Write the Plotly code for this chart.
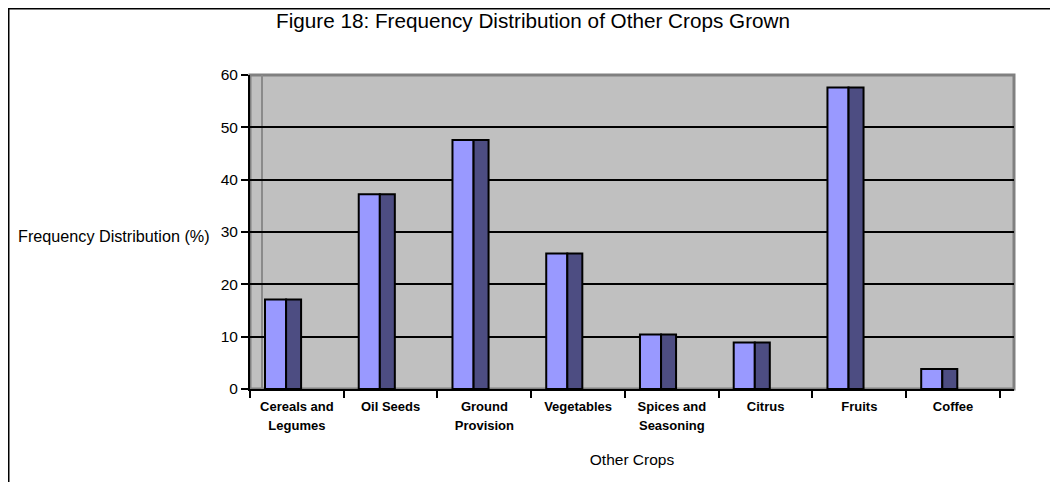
import plotly.graph_objects as go

# data
crops = ["Cereals and<br>Legumes", "Oil Seeds", "Ground<br>Provision", "Vegetables",
         "Spices and<br>Seasoning", "Citrus", "Fruits", "Coffee"]
freq_pct = [17.1, 37.2, 47.6, 25.9, 10.4, 8.9, 57.6, 3.8]
y_ticks = [0, 10, 20, 30, 40, 50, 60]

FONT = "Liberation Sans, Arial, sans-serif"

# figure sits 8px in from the page corner, so size it 8px smaller
W, H = 1050, 474
L, R, T, B = 242, 44, 67, 93
PW, PH = W - L - R, H - T - B

fig = go.Figure()

# front face of each 3-D column
fig.add_trace(go.Bar(
    x=crops, y=freq_pct,
    offset=-0.34, width=0.225,
    marker=dict(color="#9999FF", line=dict(color="black", width=2)),
    showlegend=False, hoverinfo="y"
))
# side (depth) face
fig.add_trace(go.Bar(
    x=crops, y=freq_pct,
    offset=-0.115, width=0.16,
    marker=dict(color="#4D4D82", line=dict(color="black", width=2)),
    showlegend=False, hoverinfo="skip"
))

fig.update_layout(
    width=W, height=H,
    margin=dict(l=L, r=R, t=T, b=B),
    paper_bgcolor="white",
    plot_bgcolor="#C0C0C0",
    barmode="overlay",
    font=dict(family=FONT, color="black"),
    title=dict(
        text="Figure 18: Frequency Distribution of Other Crops Grown",
        x=(533 - 8) / W, xanchor="center", y=1 - 13 / H, yanchor="middle",
        font=dict(size=20.7, family=FONT, color="black")
    ),
)

# bigger base size gives the wider line spacing; inner span sets glyph size
tick_text = ["<span style='font-size:13px'>" + c + "</span>" for c in crops]

fig.update_xaxes(
    type="category",
    range=[-0.5, 7.65],
    tickson="boundaries",
    tickvals=crops, ticktext=tick_text,
    ticks="outside", ticklen=7, tickwidth=2, tickcolor="black",
    showline=True, linecolor="black", linewidth=2,
    showgrid=False,
    tickfont=dict(size=14.5, family=FONT, weight="bold"),
    ticklabelstandoff=3,
    title=dict(text="Other Crops", font=dict(size=15.5, family=FONT), standoff=22),
)

fig.update_yaxes(
    range=[0, 60],
    tickvals=y_ticks,
    ticks="outside", ticklen=7, tickwidth=2, tickcolor="black",
    showline=True, linecolor="black", linewidth=2,
    showgrid=True, gridcolor="black", gridwidth=2,
    zeroline=False,
    tickfont=dict(size=15.5, family=FONT),
)

# y-axis title written horizontally, left of the axis
fig.add_annotation(
    text="Frequency Distribution (%)",
    xref="paper", yref="paper", x=(212 - 250) / PW, y=(389 - 236) / PH,
    xanchor="right", yanchor="middle", showarrow=False,
    font=dict(size=16.2, family=FONT)
)

# plot-area border (grey) and left edge of the back wall
fig.add_shape(type="rect", xref="paper", yref="paper", x0=0, x1=1, y0=0, y1=1,
              line=dict(color="#808080", width=3), layer="below")
fig.add_shape(type="line", xref="paper", yref="paper", x0=12 / PW, x1=12 / PW, y0=0, y1=1,
              line=dict(color="#8A8A8A", width=2), layer="below")

# outer chart frame (top and left edges only, as cropped)
fig.add_shape(type="line", xref="paper", yref="paper",
              x0=-L / PW, x1=1 + R / PW, y0=1 + T / PH, y1=1 + T / PH,
              line=dict(color="black", width=3))
fig.add_shape(type="line", xref="paper", yref="paper",
              x0=-L / PW, x1=-L / PW, y0=-B / PH, y1=1 + T / PH,
              line=dict(color="black", width=3))

fig.write_html("out.html")
